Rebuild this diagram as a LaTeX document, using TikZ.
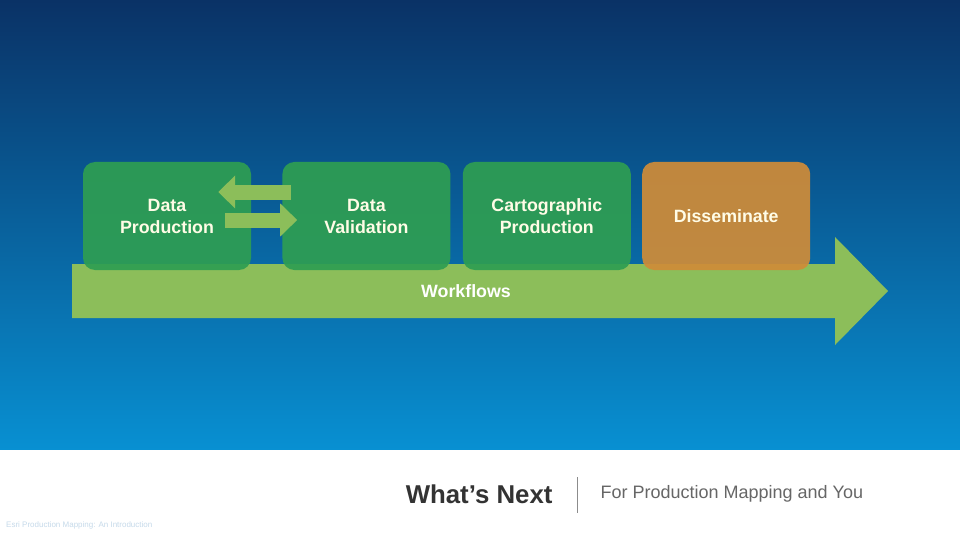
\documentclass[tikz,border=0pt]{standalone}
\usepackage{fontspec}
\setmainfont{Liberation Sans}
\usetikzlibrary{positioning,arrows.meta}
\definecolor{navytop}{HTML}{0A3266}
\definecolor{navymid}{HTML}{05589C}
\definecolor{skybot}{HTML}{0890D2}
\definecolor{boxgreen}{HTML}{2E9E52}
\definecolor{boxorange}{HTML}{D08C38}
\definecolor{flowgreen}{HTML}{8CBE5A}
\definecolor{cream}{HTML}{FFFCE6}
\definecolor{footblue}{HTML}{C6DAEA}
\tikzset{
  stagebox/.style={rounded corners=12pt, minimum width=168pt, minimum height=108pt,
    align=center, text=cream, font=\fontsize{17.8}{22}\selectfont\bfseries, fill opacity=0.92, text opacity=1},
  swap/.style={draw=flowgreen, line width=15pt, -{Triangle[width=32pt,length=17pt]}}
}
\begin{document}
\begin{tikzpicture}[x=1pt,y=-1pt]
        \useasboundingbox (0,0) rectangle (960,540);
        \shade[top color=navytop, middle color=navymid, bottom color=skybot] (0,0) rectangle (960,450);
        \fill[white] (0,450) rectangle (960,540);
        % big workflow arrow
        \fill[flowgreen] (72,264) -- (835,264) -- (835,237) -- (888,291) -- (835,345) -- (835,318) -- (72,318) -- cycle;
        \node[text=white, font=\fontsize{17.8}{20}\selectfont\bfseries] (flow) at (466,291) {Workflows};
        % stages
        \node[stagebox, fill=boxgreen] (prod) at (167,216) {Data\\Production};
        \node[stagebox, fill=boxgreen, right=31pt of prod] (valid) {Data\\Validation};
        \node[stagebox, fill=boxgreen, right=12pt of valid] (carto) {Cartographic\\Production};
        \node[stagebox, fill=boxorange, right=11pt of carto] (diss) {Disseminate};
        \coordinate (backtail) at ([shift={(9,-24)}]valid.west);
        \coordinate (backtip) at ([shift={(-33,-24)}]prod.east);
        \coordinate (fwdtail) at ([shift={(-26,4)}]prod.east);
        \coordinate (fwdtip) at ([shift={(15,4)}]valid.west);
        \draw[swap] (backtail) -- (backtip);
        \draw[swap] (fwdtail) -- (fwdtip);
        % footer
        \node[anchor=east, text=black!80, font=\fontsize{25.8}{30}\selectfont\bfseries] (title) at (556,494) {What’s Next};
        \coordinate (bartop) at (577,477);
        \coordinate (barbot) at (577,513);
        \draw[black!45, line width=0.8pt] (bartop) -- (barbot);
        \node[anchor=west, text=black!60, font=\fontsize{18}{21}\selectfont] (subtitle) at (597,494) {For Production Mapping and You};
        \node[anchor=west, text=footblue, font=\fontsize{8}{9}\selectfont, inner sep=0pt] (foot) at (6,525) {Esri Production Mapping: An Introduction};
\end{tikzpicture}
\end{document}
